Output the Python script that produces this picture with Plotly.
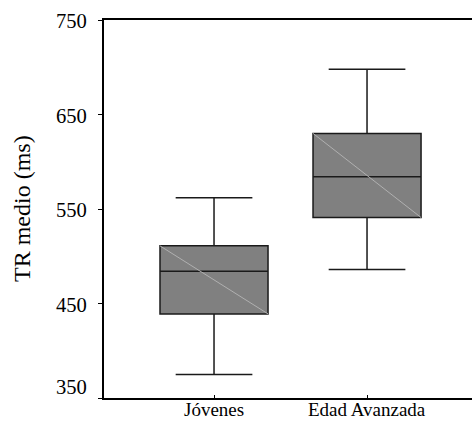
import plotly.graph_objects as go

categories = ["Jóvenes", "Edad Avanzada"]
lower_whisker = [375, 486]
q1_values = [439, 541]
medians = [484, 584]
q3_values = [511, 630]
upper_whisker = [562, 698]
y_ticks = [350, 450, 550, 650, 750]
y_title = "TR medio (ms)"

FONT = "Liberation Serif"
BOX_W = 0.706
positions = list(range(len(categories)))

fig = go.Figure()
for i, cat in enumerate(categories):
    fig.add_trace(go.Box(
        x=[positions[i]],
        q1=[q1_values[i]], median=[medians[i]], q3=[q3_values[i]],
        lowerfence=[lower_whisker[i]], upperfence=[upper_whisker[i]],
        name=cat, width=BOX_W, whiskerwidth=0.71,
        fillcolor="#808080", line=dict(color="#1a1a1a", width=1.5),
        boxpoints=False, showlegend=False, hoverinfo="skip",
    ))
for i, cat in enumerate(categories):
    fig.add_trace(go.Scatter(
        x=[positions[i] - BOX_W / 2, positions[i] + BOX_W / 2],
        y=[q3_values[i], q1_values[i]],
        mode="lines", line=dict(color="#b0b0b0", width=1),
        showlegend=False, hoverinfo="skip",
    ))

annotations = []
for j, t in enumerate(y_ticks):
    annotations.append(dict(
        x=0, xref="paper", y=t, yref="y", text=str(t), showarrow=False,
        xanchor="right", yanchor="middle", xshift=-15, yshift=(11 if j == 0 else -1),
        font=dict(family=FONT, size=20.6, color="black"),
    ))
for i, cat in enumerate(categories):
    annotations.append(dict(
        x=positions[i], xref="x", y=0, yref="paper", text=cat, showarrow=False,
        xanchor="center", yanchor="middle", yshift=-11, borderpad=0,
        font=dict(family=FONT, size=19, color="black"),
    ))
annotations.append(dict(
    x=0, xref="paper", y=0.5, yref="paper", text=y_title, showarrow=False,
    textangle=-90, xanchor="center", yanchor="middle", xshift=-82, yshift=0,
    font=dict(family=FONT, size=24, color="black"),
))

fig.update_layout(
    width=472, height=421,
    margin=dict(l=104, r=0, t=20, b=23),
    paper_bgcolor="white", plot_bgcolor="white",
    font=dict(family=FONT, size=20.6, color="black"),
    annotations=annotations,
    xaxis=dict(
        range=[-0.719, 1.686], tickmode="array", tickvals=positions,
        showline=True, linecolor="black", linewidth=1.5, mirror=True, showticklabels=False,
        ticks="inside", ticklen=3, tickcolor="black", showgrid=False, zeroline=False,
        automargin=False,
    ),
    yaxis=dict(
        range=[350, 750], tickmode="array", tickvals=y_ticks, automargin=False,
        showline=True, linecolor="black", linewidth=1.5, showticklabels=False,
        ticks="outside", ticklen=4, tickcolor="black", showgrid=False, zeroline=False,
    ),
)

fig.write_html("out.html")
